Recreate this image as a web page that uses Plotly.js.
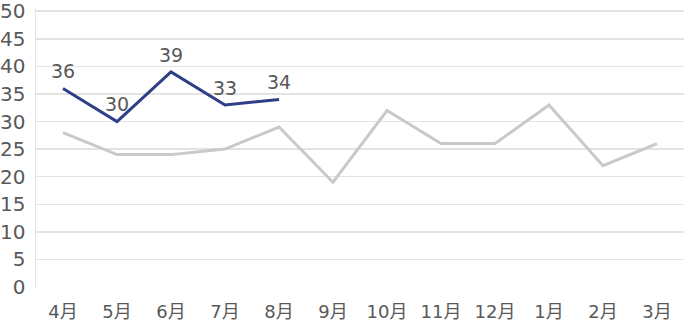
<!DOCTYPE html>
<html>
<head>
<meta charset="utf-8">
<script src="https://cdn.plot.ly/plotly-3.0.1.min.js"></script>
<style>html,body{margin:0;padding:0;background:#fff;}#chart{width:685px;height:329px;}</style>
</head>
<body>
<div id="chart"></div>
<script>
const months = ["4月","5月","6月","7月","8月","9月","10月","11月","12月","1月","2月","3月"];
const prevYear = [28,24,24,25,29,19,32,26,26,33,22,26];
const thisYear = [36,30,39,33,34];
const thisMonths = months.slice(0, thisYear.length);
const yTicks = [0,5,10,15,20,25,30,35,40,45,50];

const font = "'DejaVu Sans', 'Noto Sans CJK JP', sans-serif";
const traces = [
  {x: months, y: prevYear, type: 'scatter', mode: 'lines',
   line: {color: '#c9c9c9', width: 3}, hoverinfo: 'skip'},
  {x: thisMonths, y: thisYear, type: 'scatter', mode: 'lines+markers+text',
   marker: {size: 7, color: 'rgba(0,0,0,0)'},
   text: thisYear.map(String), textposition: 'top center', cliponaxis: false,
   textfont: {family: font, size: 19, color: '#595959'},
   line: {color: '#2e3f87', width: 3}, hoverinfo: 'skip'}
];
const layout = {
  width: 685, height: 329,
  margin: {l: 36, r: 1, t: 9, b: 42},
  paper_bgcolor: '#fff', plot_bgcolor: '#fff',
  showlegend: false,
  font: {family: font, color: '#595959', size: 18},
  xaxis: {type: 'category', categoryorder: 'array', categoryarray: months,
          range: [-0.5, 11.5], showgrid: false, zeroline: false, showline: false,
          automargin: false, ticklabelstandoff: 12,
          ticks: '', tickfont: {size: 18, color: '#595959'}, fixedrange: true},
  yaxis: {range: [0, 50.4], tickvals: yTicks, ticktext: yTicks.map(String),
          automargin: false, ticklabeloverflow: 'allow',
          showgrid: true, gridcolor: '#e3e3e3', gridwidth: 1.5,
          zeroline: false, showline: true, linecolor: '#e3e3e3', linewidth: 1.5,
          ticks: '', ticklabelstandoff: 5, tickfont: {size: 20, color: '#595959'}, fixedrange: true}
};
Plotly.newPlot('chart', traces, layout, {staticPlot: true, displayModeBar: false});
</script>
</body>
</html>
